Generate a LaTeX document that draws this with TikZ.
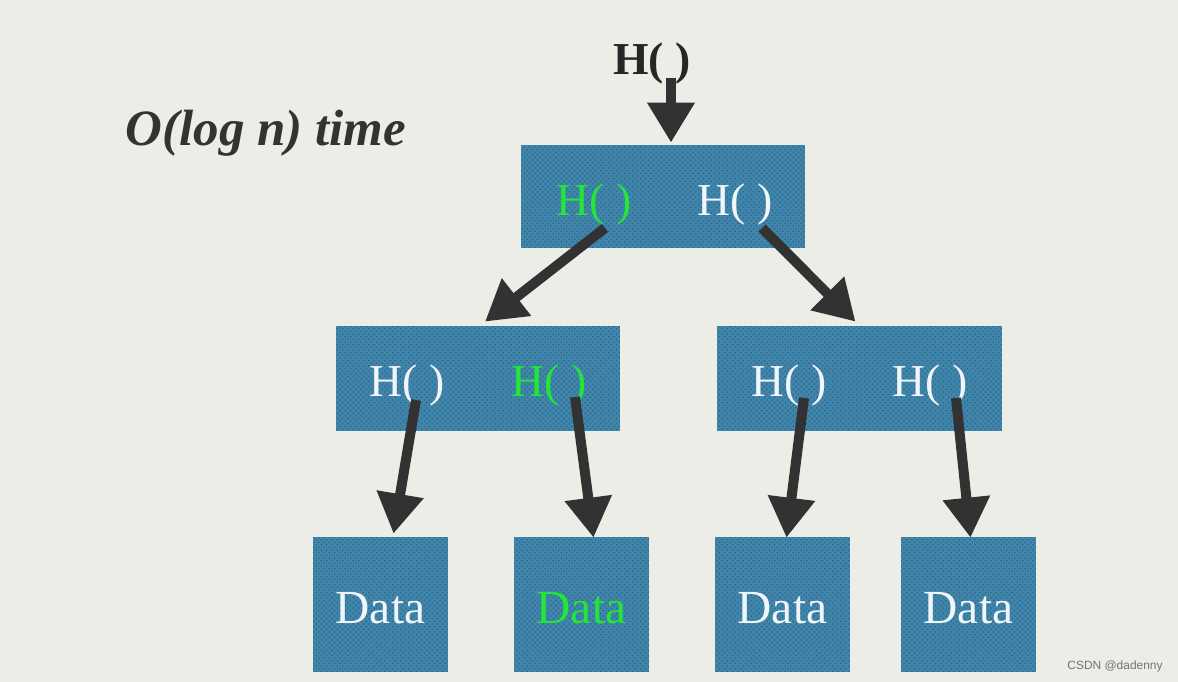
\documentclass[tikz,border=0pt]{standalone}
\usepackage{fontspec}
\setmainfont{Liberation Serif}
\setsansfont{Liberation Sans}
\usepackage{xcolor}
\usepackage{tikz}
\usetikzlibrary{arrows.meta, positioning, calc, patterns}

\definecolor{paper}{RGB}{237,237,231}
\definecolor{boxblue}{RGB}{64,133,172}
\definecolor{hashgreen}{RGB}{35,230,55}
\definecolor{arrowgray}{RGB}{50,50,50}

\begin{document}
\begin{tikzpicture}[
    x=0.02cm, y=-0.02cm,
    blk/.style={rectangle, fill=boxblue, postaction={pattern=crosshatch dots, pattern color=boxblue!75!black}, inner sep=0pt},
    midbox/.style={blk, minimum width=5.7cm, minimum height=2.1cm},
    leafbox/.style={blk, minimum width=2.7cm, minimum height=2.7cm},
    hlabel/.style={font=\fontsize{26}{26}\selectfont, text=white!92!boxblue, inner sep=1pt},
    hgreen/.style={hlabel, text=hashgreen},
    datalabel/.style={font=\fontsize{27}{27}\selectfont, text=white!92!boxblue},
    arrow/.style={-{Triangle[length=0.8cm, width=0.9cm]}, line width=0.2cm, arrowgray}
]
\useasboundingbox[fill=paper] (0,0) rectangle (1178,682);

\node[font=\fontsize{26}{26}\selectfont\bfseries, text=black!85] (toph) at (652,64) {H( )};
\node[font=\fontsize{29}{29}\selectfont\bfseries\itshape, text=black!80] (cost) at (266,133) {O(log n) time};

\node[midbox, minimum width=5.68cm, minimum height=2.06cm] (root) at (663,196.5) {};
\node[midbox] (ml) at (478,378.5) {};
\node[midbox] (mr) at (859.5,378.5) {};

\node[leafbox] (d1) at (380.5,604.5) {};
\node[leafbox] (d2) at (581.5,604.5) {};
\node[leafbox] (d3) at (782.5,604.5) {};
\node[leafbox] (d4) at (968.5,604.5) {};

\node[hgreen] (rh1) at (594,205) {H( )};
\node[hlabel] (rh2) at (735,205) {H( )};
\node[hlabel] (lh1) at (407,386) {H( )};
\node[hgreen] (lh2) at (549,386) {H( )};
\node[hlabel] (rh3) at (789,386) {H( )};
\node[hlabel] (rh4) at (930,386) {H( )};

\node[datalabel] at ($(d1)+(0,4)$) {Data};
\node[datalabel, text=hashgreen] at ($(d2)+(0,4)$) {Data};
\node[datalabel] at ($(d3)+(0,4)$) {Data};
\node[datalabel] at ($(d4)+(0,4)$) {Data};

\node[font=\sffamily\fontsize{6.8}{6.8}\selectfont, text=black!55] (mark) at (1115,666) {CSDN @dadenny};

\draw[arrow] ($(toph.center)+(19,14)$) -- ($(root.north)+(8,-2)$);
\draw[arrow] ($(rh1.center)+(11,23)$) -- ($(ml.north)+(7,-4)$);
\draw[arrow] ($(rh2.center)+(27,23)$) -- ($(mr.north)+(-4,-4)$);
\draw[arrow] ($(lh1.center)+(9,14)$) -- ($(d1.north)+(13,-3)$);
\draw[arrow] ($(lh2.center)+(26,11)$) -- ($(d2.north)+(12,1)$);
\draw[arrow] ($(rh3.center)+(15,12)$) -- ($(d3.north)+(4,1)$);
\draw[arrow] ($(rh4.center)+(26,12)$) -- ($(d4.north)+(2,1)$);
\end{tikzpicture}
\end{document}
